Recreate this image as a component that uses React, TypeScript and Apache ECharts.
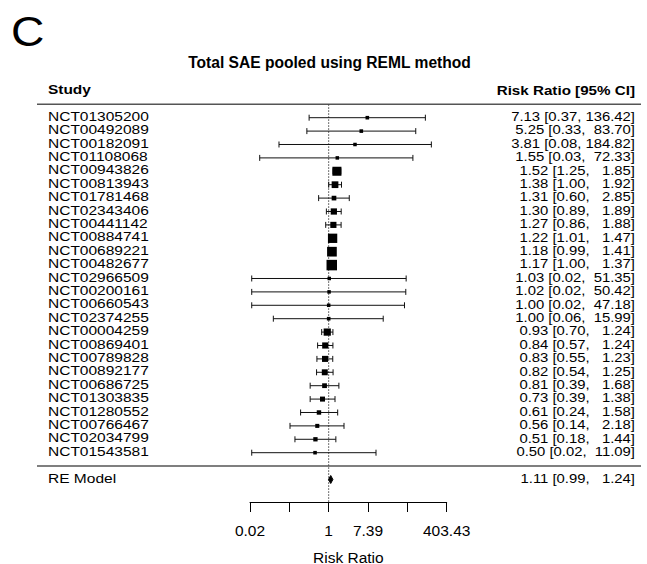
import React, { useEffect, useRef } from 'react';
import * as echarts from 'echarts';

const panelLetter = 'C';
const chartTitle = 'Total SAE pooled using REML method';
const studyHeader = 'Study';
const effectHeader = 'Risk Ratio [95% CI]';
const axisName = 'Risk Ratio';

const studies = [
  'NCT01305200', 'NCT00492089', 'NCT00182091', 'NCT01108068', 'NCT00943826',
  'NCT00813943', 'NCT01781468', 'NCT02343406', 'NCT00441142', 'NCT00884741',
  'NCT00689221', 'NCT00482677', 'NCT02966509', 'NCT00200161', 'NCT00660543',
  'NCT02374255', 'NCT00004259', 'NCT00869401', 'NCT00789828', 'NCT00892177',
  'NCT00686725', 'NCT01303835', 'NCT01280552', 'NCT00766467', 'NCT02034799',
  'NCT01543581',
];
const riskRatio = [
  7.13, 5.25, 3.81, 1.55, 1.52, 1.38, 1.31, 1.30, 1.27, 1.22, 1.18, 1.17, 1.03,
  1.02, 1.00, 1.00, 0.93, 0.84, 0.83, 0.82, 0.81, 0.73, 0.61, 0.56, 0.51, 0.50,
];
const ciLower = [
  0.37, 0.33, 0.08, 0.03, 1.25, 1.00, 0.60, 0.89, 0.86, 1.01, 0.99, 1.00, 0.02,
  0.02, 0.02, 0.06, 0.70, 0.57, 0.55, 0.54, 0.39, 0.39, 0.24, 0.14, 0.18, 0.02,
];
const ciUpper = [
  136.42, 83.70, 184.82, 72.33, 1.85, 1.92, 2.85, 1.89, 1.88, 1.47, 1.41, 1.37,
  51.35, 50.42, 47.18, 15.99, 1.24, 1.24, 1.23, 1.25, 1.68, 1.38, 1.58, 2.18,
  1.44, 11.09,
];

const pooledLabel = 'RE Model';
const pooledRR = 1.11;
const pooledLower = 0.99;
const pooledUpper = 1.24;

// x axis is on the log scale; ticks at ln values with their exp() labels
const xTickValues = [-4, -2, 0, 2, 4, 6];
const xTickLabels = ['0.02', '', '1', '7.39', '', '403.43'];

const FONT = '"Liberation Sans", Arial, Helvetica, sans-serif';

const fmt = (v: number) => v.toFixed(2);
const padL = (s: string, n: number) => (s.length >= n ? s : ' '.repeat(n - s.length) + s);

export default function App() {
  const ref = useRef<HTMLDivElement>(null);

  useEffect(() => {
    if (!ref.current) return;
    const chart = echarts.init(ref.current, undefined, { renderer: 'svg' });
    const k = studies.length;

    // metafor-style point sizes: 1/SE rescaled to [0.5, 1.5]
    const wi = ciLower.map((lo, i) => 3.92 / (Math.log(ciUpper[i]) - Math.log(lo)));
    const wMin = Math.min(...wi);
    const wMax = Math.max(...wi);
    const psize = wi.map((w) => ((w - wMin) / (wMax - wMin)) * 1.0 + 0.5);

    const upW = Math.max(...ciUpper.map((u) => fmt(u).length), fmt(pooledUpper).length);
    const loW = Math.max(...ciLower.map((u) => fmt(u).length), fmt(pooledLower).length);
    const ciText = (e: number, lo: number, hi: number) =>
      `${fmt(e)} [${padL(fmt(lo), loW)}, ${padL(fmt(hi), upW)}]`;

    const studyData = studies.map((s, i) => [
      k - i,
      Math.log(riskRatio[i]),
      Math.log(ciLower[i]),
      Math.log(ciUpper[i]),
      psize[i],
      i,
    ]);

    const yMin = -2.68;
    const yMax = k + 1;
    const LABEL_X = 48;
    const TEXT_X = 635;
    const TEXT_SIZE = 13.5;

    const textEl = (text: string, x: number, y: number, align: string, bold: boolean, size: number, sx: number) => ({
      type: 'text',
      x,
      y,
      scaleX: sx,
      style: {
        text,
        fontSize: size,
        fontFamily: FONT,
        fontWeight: bold ? 'bold' : 'normal',
        fill: '#000',
        textAlign: align,
        align,
        textVerticalAlign: 'middle',
        verticalAlign: 'middle',
      },
    });

    const option: any = {
      animation: false,
      grid: {
        left: 250,
        right: 200.3,
        top: 104.3,
        bottom: 62,
        containLabel: false,
        outerBoundsMode: 'none',
      },
      xAxis: {
        type: 'value',
        min: xTickValues[0],
        max: xTickValues[xTickValues.length - 1],
        interval: 2,
        axisLine: { show: true, onZero: false, lineStyle: { color: '#000', width: 1 } },
        axisTick: { show: true, inside: false, length: 10, lineStyle: { color: '#000', width: 1 } },
        splitLine: { show: false },
        axisLabel: {
          margin: 20,
          fontSize: 15.5,
          fontFamily: FONT,
          color: '#000',
          formatter: (v: number) => {
            const idx = xTickValues.indexOf(v);
            return idx >= 0 ? xTickLabels[idx] : '';
          },
        },
        name: axisName,
        nameLocation: 'middle',
        nameGap: 47,
        nameTextStyle: { fontSize: 15.5, fontFamily: FONT, color: '#000' },
      },
      yAxis: {
        type: 'value',
        min: yMin,
        max: yMax,
        show: false,
        splitLine: { show: false },
      },
      graphic: [
        {
          type: 'text',
          x: 11,
          y: 31,
          scaleX: 1.1,
          style: {
            text: panelLetter,
            fontSize: 42,
            fontFamily: FONT,
            fill: '#000',
            textAlign: 'left',
            align: 'left',
            textVerticalAlign: 'middle',
            verticalAlign: 'middle',
          },
        },
        {
          type: 'text',
          x: 329.5,
          y: 62,
          style: {
            text: chartTitle,
            fontSize: 15.6,
            fontWeight: 'bold',
            fontFamily: FONT,
            fill: '#000',
            textAlign: 'center',
            align: 'center',
            textVerticalAlign: 'middle',
            verticalAlign: 'middle',
          },
        },
      ],
      series: [
        {
          type: 'custom',
          name: 'decor',
          clip: false,
          silent: true,
          data: [[0]],
          encode: { x: 0 },
          renderItem: (_p: any, api: any) => {
            const top = api.coord([0, k + 1]);
            const bot = api.coord([0, 0]);
            const axisY = api.coord([0, yMin]);
            const hdr = api.coord([0, k + 2]);
            return {
              type: 'group',
              children: [
                { type: 'line', shape: { x1: 37, y1: top[1], x2: 641, y2: top[1] }, style: { stroke: '#555', lineWidth: 1.5 } },
                { type: 'line', shape: { x1: 37, y1: bot[1], x2: 641, y2: bot[1] }, style: { stroke: '#555', lineWidth: 1.5 } },
                { type: 'line', shape: { x1: top[0], y1: top[1], x2: axisY[0], y2: axisY[1] }, style: { stroke: '#444', lineWidth: 1, lineDash: [1.5, 1.5] } },
                textEl(studyHeader, LABEL_X, hdr[1] - 1, 'left', true, 13.2, 1.17),
                textEl(effectHeader, TEXT_X, hdr[1] - 1, 'right', true, 13.2, 1.15),
              ],
            };
          },
        },
        {
          type: 'custom',
          name: 'studies',
          clip: false,
          data: studyData,
          encode: { x: [1, 2, 3], y: 0 },
          renderItem: (_p: any, api: any) => {
            const row = api.value(0);
            const est = api.coord([api.value(1), row]);
            const lo = api.coord([api.value(2), row]);
            const hi = api.coord([api.value(3), row]);
            const idx = api.value(5);
            const box = api.value(4) * 7;
            const y = est[1];
            const lineStyle = { stroke: '#111', lineWidth: 1 };
            return {
              type: 'group',
              children: [
                { type: 'line', shape: { x1: lo[0], y1: y, x2: hi[0], y2: y }, style: lineStyle },
                { type: 'line', shape: { x1: lo[0], y1: y - 3, x2: lo[0], y2: y + 3 }, style: lineStyle },
                { type: 'line', shape: { x1: hi[0], y1: y - 3, x2: hi[0], y2: y + 3 }, style: lineStyle },
                { type: 'rect', shape: { x: est[0] - box / 2, y: y - box / 2, width: box, height: box }, style: { fill: '#000' } },
                textEl(studies[idx], LABEL_X, y - 1.5, 'left', false, TEXT_SIZE, 1.15),
                textEl(ciText(riskRatio[idx], ciLower[idx], ciUpper[idx]), TEXT_X, y - 1.5, 'right', false, TEXT_SIZE, 1.1),
              ],
            };
          },
        },
        {
          type: 'custom',
          name: 'pooled',
          clip: false,
          data: [[-1, Math.log(pooledRR), Math.log(pooledLower), Math.log(pooledUpper)]],
          encode: { x: [1, 2, 3], y: 0 },
          renderItem: (_p: any, api: any) => {
            const row = api.value(0);
            const est = api.coord([api.value(1), row]);
            const lo = api.coord([api.value(2), row]);
            const hi = api.coord([api.value(3), row]);
            const y = est[1];
            return {
              type: 'group',
              children: [
                {
                  type: 'polygon',
                  shape: { points: [[lo[0], y], [est[0], y - 4], [hi[0], y], [est[0], y + 4]] },
                  style: { fill: '#000', stroke: '#000', lineWidth: 1 },
                },
                textEl(pooledLabel, LABEL_X, y - 1.5, 'left', false, TEXT_SIZE, 1.15),
                textEl(ciText(pooledRR, pooledLower, pooledUpper), TEXT_X, y - 1.5, 'right', false, TEXT_SIZE, 1.1),
              ],
            };
          },
        },
      ],
    };

    chart.setOption(option);
    return () => chart.dispose();
  }, []);

  return (
    <div
      ref={ref}
      style={{ position: 'fixed', left: 0, top: 0, width: 647, height: 564, background: '#fff' }}
    />
  );
}
